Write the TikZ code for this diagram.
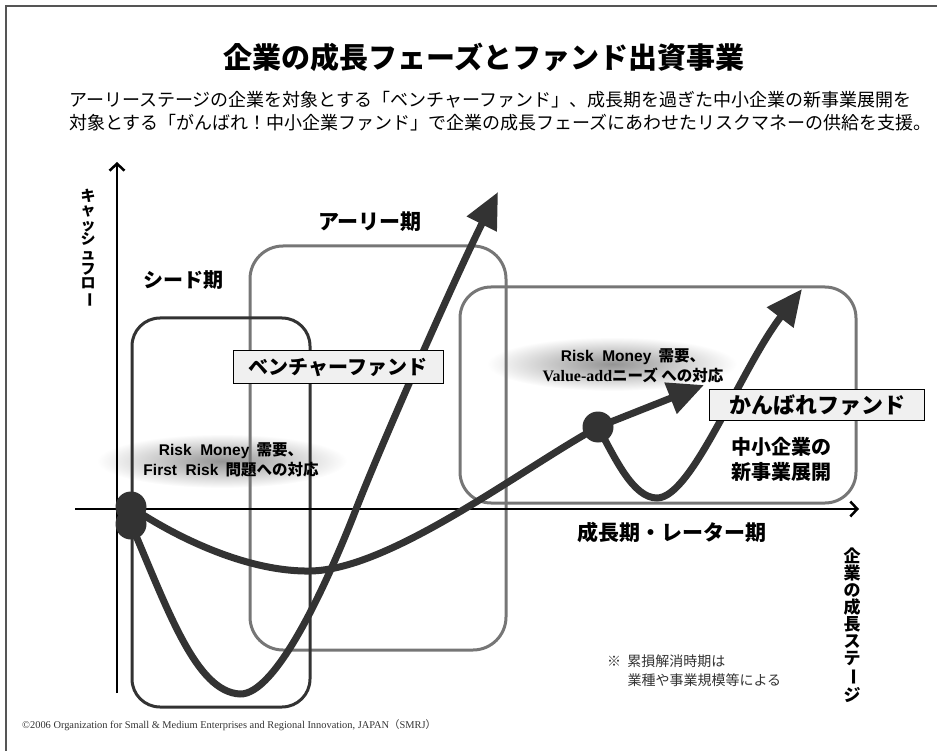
\documentclass[tikz,border=0pt]{standalone}
\usepackage{fontspec}
\newfontfamily\jp{Noto Sans CJK JP}
\newfontfamily\ser{Liberation Serif}
\newfontfamily\lsans{Liberation Sans}
\usetikzlibrary{arrows.meta}
\definecolor{curvec}{HTML}{333333}
\definecolor{boxgray}{HTML}{767676}
\definecolor{framec}{HTML}{555555}
\tikzset{
  curvestyle/.style={draw=curvec, line width=7pt, line cap=round},
  curvetip/.style={curvestyle, -{Triangle[length=36pt,width=32pt]}},
  seedbox/.style={draw=curvec, line width=3pt, rounded corners=28pt},
  phasebox/.style={draw=boxgray, line width=3pt, rounded corners=33pt},
  fundbox/.style={draw=black, line width=0.8pt, fill=black!6, inner sep=0pt},
  axisline/.style={draw=black, line width=2.5pt, -{Straight Barb[length=7pt,width=15pt]}},
  dot/.style={circle, fill=curvec, minimum size=31pt, inner sep=0pt},
  lbl/.style={font=\jp\bfseries\fontsize{20}{25}\selectfont, align=center, inner sep=0pt},
  risk/.style={font=\jp\bfseries\fontsize{15.5}{19.5}\selectfont, align=center, inner sep=0pt},
  vlbl/.style={align=center, inner sep=0pt}
}
\begin{document}
\begin{tikzpicture}[x=1pt,y=-1pt]
\useasboundingbox (0,0) rectangle (937,751);
% glows
\shade[inner color=black!42, outer color=white] (222,461) ellipse (125 and 27);
\shade[inner color=black!42, outer color=white] (612,364) ellipse (125 and 27);
% frame
\coordinate (f1) at (6,751); \coordinate (f2) at (6,6); \coordinate (f3) at (937,6);
\draw[framec, line width=1.5pt] (f1) -- (f2) -- (f3);
% phase boxes
\draw[phasebox] (250,246) rectangle (506,650);
\draw[phasebox, rounded corners=31pt] (460,287) rectangle (856,503);
\draw[seedbox] (132,318) rectangle (310,707);
% axes
\coordinate (xa0) at (75,509); \coordinate (xa1) at (859,509);
\coordinate (ya0) at (117,693); \coordinate (ya1) at (117,162);
\draw[axisline] (xa0) -- (xa1);
\draw[axisline] (ya0) -- (ya1);
% dots positions
\coordinate (d1) at (131,507);
\coordinate (d1b) at (131,524);
\coordinate (d2) at (598,427);
\coordinate (tipA) at (498,192);
\coordinate (tipB) at (704,385);
\coordinate (tipC) at (802,289);
% curves
\draw[curvetip] (d1b) .. controls (168,610) and (196,692) .. (240,694)
  .. controls (276,695) and (326,585) .. (353,517)
  .. controls (383,439) and (463,261) .. (tipA);
\draw[curvestyle] (d1) .. controls (180,540) and (250,572) .. (310,571)
  .. controls (390,570) and (520,470) .. (d2);
\draw[curvetip] (d2) -- (tipB);
\draw[curvetip] (d2) .. controls (615,458) and (633,498) .. (657,498)
  .. controls (692,498) and (740,370) .. (tipC);
% dots
\node[dot] (dotA) at (d1) {};
\node[dot] (dotB) at (d1b) {};
\node[dot] (dotC) at (d2) {};
% fund boxes
\node[fundbox, minimum width=210pt, minimum height=33pt, font=\jp\bfseries\fontsize{20}{20}\selectfont] (vf) at (338,367) {ベンチャーファンド};
\node[fundbox, minimum width=215pt, minimum height=31pt, font=\jp\bfseries\fontsize{22}{22}\selectfont] (kf) at (817,405) {かんばれファンド};
% title
\node[font=\jp\bfseries\fontsize{29}{29}\selectfont, inner sep=0pt] (title) at (484,57) {企業の成長フェーズとファンド出資事業};
\node[font=\jp\fontsize{18}{23.5}\selectfont, anchor=west, align=left, inner sep=0pt] (sub) at (69,111)
 {アーリーステージの企業を対象とする「ベンチャーファンド」、成長期を過ぎた中小企業の新事業展開を\\対象とする「がんばれ！中小企業ファンド」で企業の成長フェーズにあわせたリスクマネーの供給を支援。};
% phase labels
\node[lbl] (seedl) at (183,280) {シード期};
\node[lbl, font=\jp\bfseries\fontsize{21}{25}\selectfont] (earlyl) at (370,222) {アーリー期};
\node[lbl] (smel) at (781,459) {中小企業の\\新事業展開};
\node[lbl, font=\jp\bfseries\fontsize{21}{25}\selectfont] (growl) at (672,532) {成長期・レーター期};
% risk texts
\node[risk] (risk1) at (231,460) {{\lsans Risk\ \ Money}\ \ 需要、\\{\lsans First\ \ Risk}\ \ 問題への対応};
\node[risk] (risk2) at (633,366) {{\lsans Risk\ \ Money}\ \ 需要、\\{\ser\bfseries\fontsize{16}{19.5}\selectfont Value-add}ニーズ への対応};
% vertical labels
\node[vlbl, font=\jp\bfseries\fontsize{15}{14.6}\selectfont] (cfl) at (88,248)
 {キ\\ャ\\ッ\\シ\\ュ\\フ\\ロ\\\rotatebox[origin=c]{-90}{ー}};
\node[vlbl, font=\jp\bfseries\fontsize{17}{17}\selectfont] (stl) at (852,625)
 {企\\業\\の\\成\\長\\ス\\テ\\\rotatebox[origin=c]{-90}{ー}\\ジ};
% note
\node[font=\jp\fontsize{14}{19}\selectfont, text=black!80, anchor=north west, align=left, inner sep=0pt] (note) at (607,655)
 {※\ \ 累損解消時期は\\\hspace*{1.45em}業種や事業規模等による};
% copyright
\node[font=\ser\fontsize{10.4}{12}\selectfont, anchor=west, inner sep=0pt, text=black!80] (copy) at (22,725)
 {©2006 Organization for Small \& Medium Enterprises and Regional Innovation, JAPAN{\jp （}SMRJ{\jp ）}};
\end{tikzpicture}
\end{document}
